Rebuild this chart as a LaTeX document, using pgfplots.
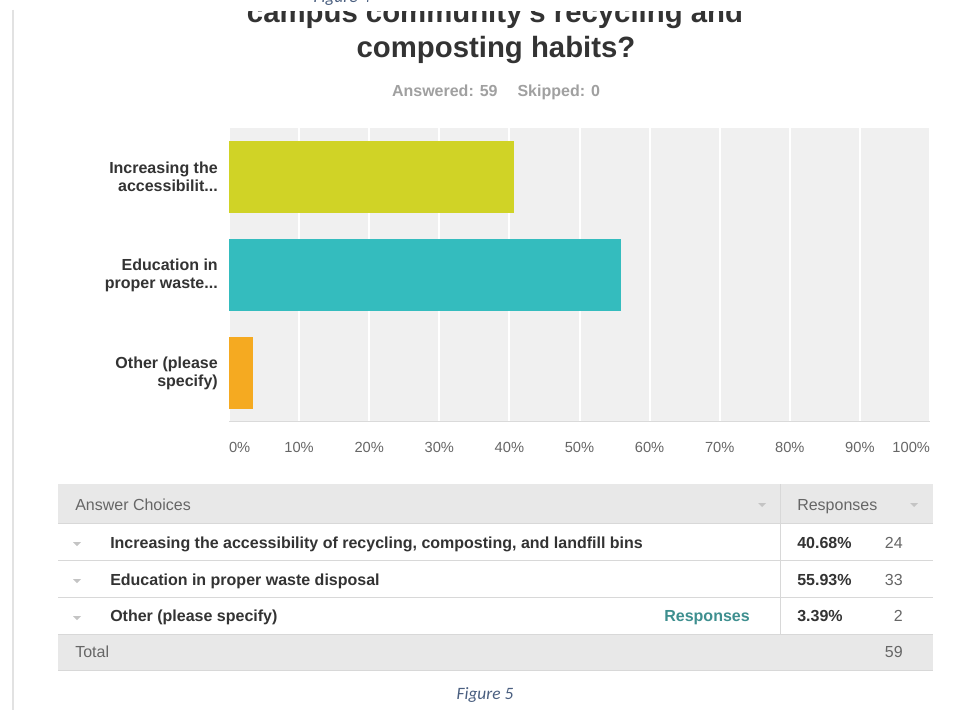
\documentclass[border=0pt]{standalone}
\usepackage{fontspec}
\setmainfont{Liberation Sans}
\newfontfamily\figfont{Carlito}
\usepackage{pgfplots}
\pgfplotsset{compat=1.18}

\definecolor{barA}{HTML}{D0D326}
\definecolor{barB}{HTML}{34BCBE}
\definecolor{barC}{HTML}{F5AA21}
\definecolor{plotbg}{HTML}{F0F0F0}
\definecolor{dark}{HTML}{333333}
\definecolor{mid}{HTML}{666666}
\definecolor{soft}{HTML}{A0A0A0}
\definecolor{hdr}{HTML}{E8E8E8}
\definecolor{rule}{HTML}{D8D8D8}
\definecolor{tri}{HTML}{C4C4C4}
\definecolor{teal}{HTML}{3E8F8F}
\definecolor{fig}{HTML}{4A5F80}
\definecolor{edge}{HTML}{E2E2E2}
\definecolor{axbot}{HTML}{DADADA}

\begin{document}
\begin{tikzpicture}[x=0.75pt,y=-0.75pt]
% page in pixel units, origin top left
\useasboundingbox (0,0) rectangle (967,710);
\clip (0,0) rectangle (967,710);
\fill[white] (0,0) rectangle (967,710);
\draw[edge, line width=1.5pt] (13,10) -- (13,712);

% title (its first line is covered at the top, as in the scanned page)
\node[anchor=base, inner sep=0pt, font=\bfseries\fontsize{22}{26}\selectfont, text=dark] at (495,22.5) {campus community\textquotesingle s recycling and};
\node[anchor=base, inner sep=0pt, font=\bfseries\fontsize{22}{26}\selectfont, text=dark] at (496,58) {composting habits?};
\fill[white] (200,0) rectangle (800,11.5);
\node[anchor=base, inner sep=0pt, font=\figfont\itshape\fontsize{13}{15}\selectfont, text=fig] at (342,3) {Figure 4};
\node[anchor=base, inner sep=0pt, font=\bfseries\fontsize{12}{14}\selectfont, text=soft] at (496,96) {Answered: 59\hspace{15pt}Skipped: 0};

\begin{scope}[x=1cm,y=1cm]
\begin{axis}[
    at={(171.75pt,-316.5pt)}, anchor=south west,
    width=525.75pt, height=220.5pt, scale only axis,
    xmin=0, xmax=100, ymin=-0.5, ymax=2.5,
    y dir=reverse,
    ytick={0,1,2},
    yticklabels={{Increasing the\\accessibilit{.}{.}{.}},{Education in\\proper waste{.}{.}{.}},{Other (please\\specify)}},
    xtick={0,10,20,30,40,50,60,70,80,90,100},
    xticklabels={\makebox[0pt][l]{0\%},10\%,20\%,30\%,40\%,50\%,60\%,70\%,80\%,90\%,\makebox[0pt][r]{100\%}},
    axis line style={draw=none},
    major tick style={draw=none},
    xmajorgrids,
    grid style={white, line width=1.5pt},
    axis background/.style={fill=plotbg},
    yticklabel style={align=right, inner sep=0pt, xshift=-8.25pt, text=dark,
        font=\bfseries\fontsize{12}{13.3}\selectfont},
    xticklabel style={inner sep=0pt, yshift=-15pt, text=mid,
        font=\fontsize{11}{13}\selectfont},
    clip=false,
]
\addplot[xbar, bar shift=0pt, bar width=0.74, fill=barA, draw=none] coordinates {(40.68,0)};
\addplot[xbar, bar shift=0pt, bar width=0.74, fill=barB, draw=none] coordinates {(55.93,1)};
\addplot[xbar, bar shift=0pt, bar width=0.74, fill=barC, draw=none] coordinates {(3.39,2)};
\end{axis}
\end{scope}
\draw[axbot, line width=0.75pt] (229,421.5) -- (930,421.5);

% response table
\fill[hdr] (58,484) rectangle (933,523);
\fill[hdr] (58,634) rectangle (933,670);
\draw[rule, line width=0.75pt] (58,523) -- (933,523);
\draw[rule, line width=0.75pt] (58,560.5) -- (933,560.5);
\draw[rule, line width=0.75pt] (58,597.5) -- (933,597.5);
\draw[rule, line width=0.75pt] (58,634) -- (933,634);
\draw[rule, line width=0.75pt] (58,670) -- (933,670);
\draw[rule, line width=0.75pt] (780,484) -- (780,634);

\fill[tri] (758,503) -- (766,503) -- (762,507) -- cycle;
\fill[tri] (910,503) -- (918,503) -- (914,507) -- cycle;
\foreach \yy in {542,579,616} {
  \fill[tri] (73,\yy) -- (81,\yy) -- (77,\yy+4) -- cycle;
}

\begin{scope}[every node/.style={inner sep=0pt, font=\fontsize{12}{14}\selectfont}]
\node[anchor=base west, text=mid] at (75,510) {Answer Choices};
\node[anchor=base west, text=mid] at (797,510) {Responses};

\node[anchor=base west, text=dark, font=\bfseries\fontsize{12}{14}\selectfont] at (110,548) {Increasing the accessibility of recycling, composting, and landfill bins};
\node[anchor=base west, text=dark, font=\bfseries\fontsize{12}{14}\selectfont] at (797,548) {40.68\%};
\node[anchor=base east, text=mid] at (903,548) {24};

\node[anchor=base west, text=dark, font=\bfseries\fontsize{12}{14}\selectfont] at (110,585) {Education in proper waste disposal};
\node[anchor=base west, text=dark, font=\bfseries\fontsize{12}{14}\selectfont] at (797,585) {55.93\%};
\node[anchor=base east, text=mid] at (903,585) {33};

\node[anchor=base west, text=dark, font=\bfseries\fontsize{12}{14}\selectfont] at (110,621) {Other (please specify)};
\node[anchor=base east, text=teal, font=\bfseries\fontsize{12}{14}\selectfont] at (750,621) {Responses};
\node[anchor=base west, text=dark, font=\bfseries\fontsize{12}{14}\selectfont] at (797,621) {3.39\%};
\node[anchor=base east, text=mid] at (903,621) {2};

\node[anchor=base west, text=mid] at (75,657) {Total};
\node[anchor=base east, text=mid] at (903,657) {59};
\end{scope}

\node[anchor=base, inner sep=0pt, font=\figfont\itshape\fontsize{13}{15}\selectfont, text=fig] at (485,699) {Figure 5};
\end{tikzpicture}
\end{document}
